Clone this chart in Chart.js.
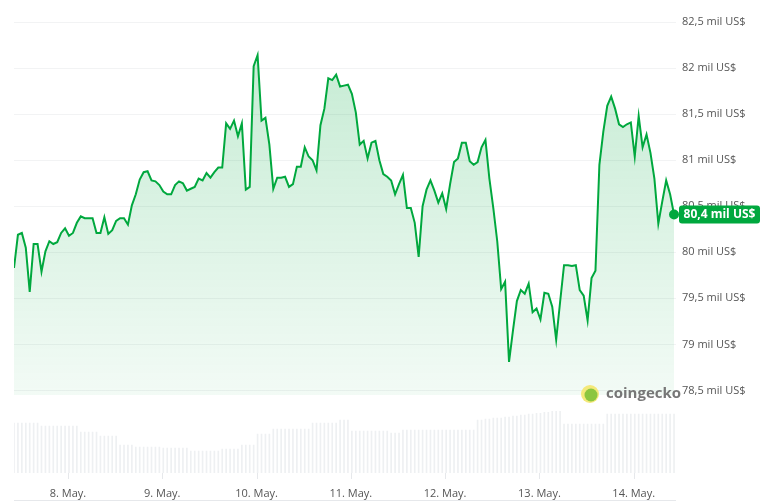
<!DOCTYPE html>
<html><head><meta charset="utf-8">
<script src="https://cdn.jsdelivr.net/npm/chart.js@4/dist/chart.umd.min.js"></script>
<style>html,body{margin:0;padding:0;background:#fff}#w{width:779px;height:503px}</style>
</head><body><div id="w"><canvas id="c"></canvas></div>
<script>
const prices = [79.83,80.19,80.21,80.05,79.57,80.09,80.09,79.79,80.01,80.12,80.09,80.11,80.21,80.26,80.18,80.21,80.32,80.39,80.37,80.37,80.37,80.21,80.21,80.38,80.20,80.24,80.34,80.37,80.37,80.30,80.51,80.63,80.79,80.87,80.88,80.78,80.77,80.73,80.66,80.63,80.63,80.73,80.77,80.75,80.67,80.69,80.71,80.80,80.78,80.86,80.81,80.87,80.92,80.92,81.40,81.34,
81.43,81.26,81.40,80.68,80.71,82.02,82.14,81.43,81.46,81.17,80.69,80.81,80.81,80.82,80.71,80.74,80.93,80.93,81.14,81.04,81.00,80.89,81.38,81.56,81.89,81.87,81.93,81.80,81.81,81.82,81.72,81.52,81.17,81.21,81.02,81.19,81.21,81.00,80.85,80.82,80.78,80.63,80.74,80.84,80.48,80.48,80.32,79.95,80.50,80.68,80.78,80.67,80.54,80.64,80.47,80.74,
80.98,81.02,81.19,81.19,80.99,80.95,80.98,81.14,81.22,80.80,80.48,80.12,79.60,79.68,78.81,79.15,79.47,79.59,79.55,79.66,79.35,79.39,79.27,79.56,79.55,79.41,79.05,79.46,79.86,79.86,79.85,79.86,79.59,79.53,79.26,79.72,79.80,80.95,81.31,81.59,81.69,81.56,81.39,81.36,81.39,81.41,81.04,81.48,81.14,81.28,81.08,80.80,80.31,80.55,80.78,80.63,80.41];
const volumes = [50,50,50,50,50,50,50, 47,47,47,47,47,47,47,47,47,47, 41,41,41,41,41, 37,37,37,37,37, 28,28,28,28, 26,26,26,26,26,26,26, 25,25,25,25,25,25,25, 22,22,22,22,22,22,22,22, 24,24,24,24,24, 28,28,28,28, 39,39,39,39, 44,44,44,44,44,44,44,44,44,44, 50,50,50,50,50,50,50, 53,53,53, 42,42,42,42,42,42,42,42,42,42, 40,40,40, 43,43,43,43,43,43,43,43,43,43,43,43,43,43,43,43,43,43,43,
53,53,54,54,55,55,55,56,56,57,57,58,58,59,59,60,60,61,61,62,62,62, 49,49,49,49,49,49,49,49,49,49,49, 59,59,59,59,59,59,59,59,59,59,59,59,59,59,59,59,59,59];
const dayLabels = ["8. May.","9. May.","10. May.","11. May.","12. May.","13. May.","14. May."];
const firstDayIndex = 13.74;
const priceTicks = [78.5,79,79.5,80,80.5,81,81.5,82,82.5];
const currentLabel = "80,4 mil US$";

const GREEN = '#00a83e';
const fmt = v => String(v).replace('.', ',') + ' mil US$';
const pricePts = prices.map((p,i)=>({x:i,y:p}));
const volPts = volumes.map((v,i)=>({x:i,y:v}));
const dayTicks = dayLabels.map((l,i)=>firstDayIndex+24*i);

const extras = {
  id:'extras',
  beforeDatasetsDraw(ch){
    const {ctx, chartArea:a, scales} = ch;
    ctx.save();
    ctx.strokeStyle='#e6e8eb';ctx.lineWidth=1;
    dayTicks.forEach(t=>{const x=Math.round(scales.x.getPixelForValue(t))+0.5;ctx.beginPath();ctx.moveTo(x,a.bottom);ctx.lineTo(x,a.bottom+6);ctx.stroke();});
    ctx.beginPath();ctx.moveTo(a.left,500.5);ctx.lineTo(a.right,500.5);ctx.stroke();
    ctx.restore();
  },
  afterDatasetsDraw(ch){
    const {ctx, scales} = ch;
    const last = prices.length-1;
    const x = scales.x.getPixelForValue(last), y = scales.y.getPixelForValue(prices[last]);
    ctx.save();
    ctx.fillStyle=GREEN;ctx.beginPath();ctx.arc(x,y,5,0,Math.PI*2);ctx.fill();
    const bx=679,bw=81,bh=18,by=y-bh/2;
    ctx.beginPath();ctx.roundRect(bx,by,bw,bh,3);ctx.fill();
    ctx.fillStyle='#fff';ctx.font='bold 12px "Open Sans", sans-serif';ctx.textBaseline='middle';ctx.textAlign='center';
    ctx.fillText(currentLabel,bx+bw/2,y+0.5);
    ctx.fillStyle='#f4e97a';ctx.beginPath();ctx.arc(590,394,9,0,Math.PI*2);ctx.fill();
    ctx.fillStyle='#8cc63f';ctx.beginPath();ctx.arc(591,395,6.5,0,Math.PI*2);ctx.fill();
    ctx.fillStyle='#777';ctx.font='bold 15px "Open Sans", sans-serif';ctx.textAlign='left';
    ctx.fillText('coingecko',606,394);
    ctx.restore();
  }
};

const ctx = document.getElementById('c').getContext('2d');
const grad = ctx.createLinearGradient(0,20,0,392);
grad.addColorStop(0,'rgba(0,168,62,0.24)');
grad.addColorStop(1,'rgba(0,168,62,0.05)');

new Chart(ctx,{
  data:{datasets:[
    {type:'line',data:pricePts,yAxisID:'y',borderColor:GREEN,borderWidth:2,pointRadius:0,tension:0,fill:{value:78.45},backgroundColor:grad,order:1},
    {type:'bar',data:volPts,yAxisID:'v',backgroundColor:'#eef0f2',barThickness:1,order:2}
  ]},
  options:{
    responsive:true,maintainAspectRatio:false,animation:false,
    layout:{padding:{top:5,left:14,right:0,bottom:0}},
    plugins:{legend:{display:false},tooltip:{enabled:false}},
    scales:{
      x:{type:'linear',min:0,max:168.5,offset:false,
        grid:{display:false},border:{display:false},
        afterBuildTicks(s){s.ticks=dayTicks.map(v=>({value:v}));},
        afterFit(s){s.height=30;},
        ticks:{autoSkip:false,maxRotation:0,padding:6,color:'#555',font:{size:11,family:'"Open Sans", sans-serif'},
          callback:(v,i)=>dayLabels[i]}},
      y:{position:'right',min:77.603,max:82.603,
        afterBuildTicks(s){s.ticks=priceTicks.map(v=>({value:v}));},
        afterFit(s){s.width=103;},
        grid:{color:'#f2f3f4',drawTicks:false},border:{display:false},
        ticks:{padding:6,color:'#555',font:{size:11,family:'"Open Sans", sans-serif'},callback:v=>fmt(v)}},
      v:{position:'left',display:false,min:0,max:462}
    }
  },
  plugins:[extras]
});
</script></body></html>
